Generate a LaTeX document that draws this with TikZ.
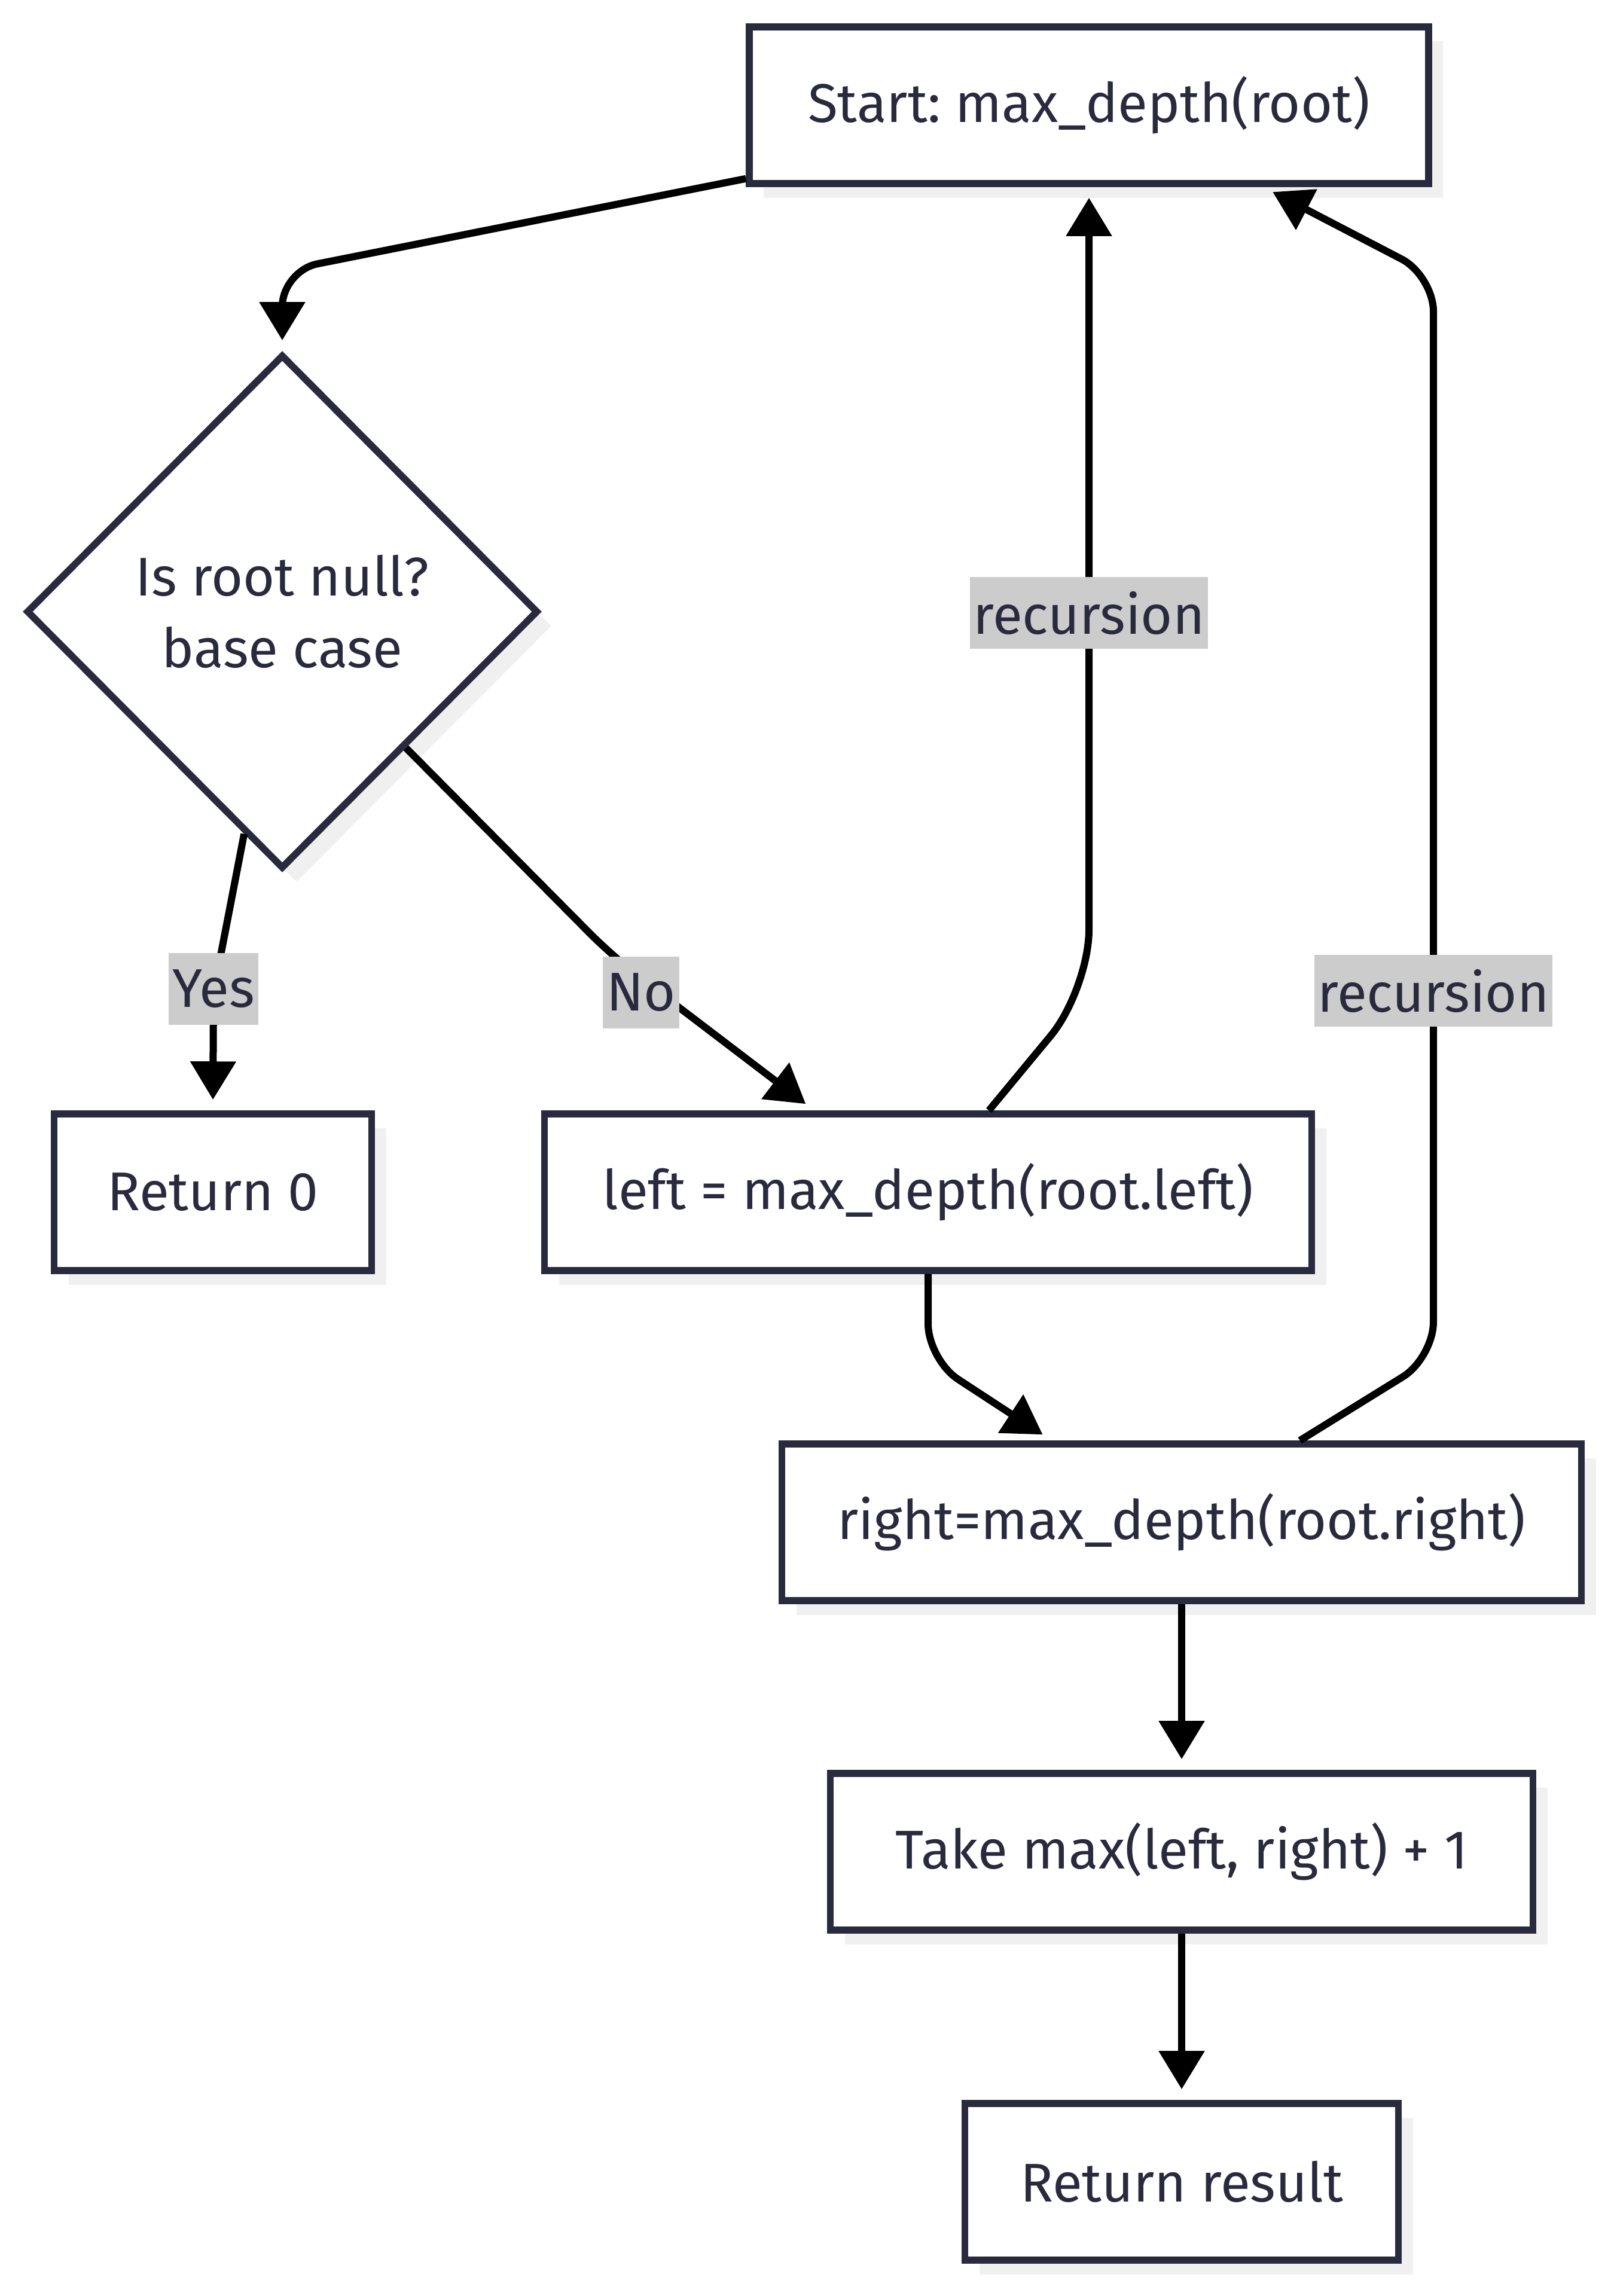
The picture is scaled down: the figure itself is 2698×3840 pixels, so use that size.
\documentclass[tikz,border=0pt]{standalone}
\usepackage{fontspec}
\setmainfont{Fira Sans}
\usetikzlibrary{shapes.geometric,arrows.meta,calc,shadows}
\definecolor{ink}{RGB}{42,42,62}
\definecolor{lblgray}{RGB}{204,204,204}
\definecolor{shadowgray}{RGB}{240,240,240}
\frenchspacing
\begin{document}
\begin{tikzpicture}[x=0.25pt,y=-0.25pt,
  nodefont/.style={font=\fontsize{22.8}{30}\selectfont, text=ink},
  shade/.style={drop shadow={shadow xshift=6pt, shadow yshift=-6pt, fill=shadowgray, opacity=1}},
  box/.style={rectangle, draw=ink, line width=2.9pt, fill=white, minimum height=65.5pt, inner sep=0pt, nodefont, shade},
  dia/.style={diamond, draw=ink, line width=2.9pt, fill=white, minimum width=214pt, minimum height=215pt, inner sep=0pt, align=center, nodefont, shade},
  edge/.style={draw=black, line width=3pt, -{Triangle[length=16pt,width=18.5pt]}, shorten >=4.5pt, rounded corners=15pt},
  lbl/.style={fill=lblgray, inner xsep=1.5pt, inner ysep=0pt, minimum height=30pt, nodefont}]
\useasboundingbox (0,0) rectangle (2698,3840);

\node[box, minimum width=284pt] (start) at (1821,176) {Start: max\_depth(root)};
\node[dia] (dec) at (472,1023) {Is root null?\\base case};
\node[box, minimum width=132.75pt] (ret0) at (356,1994) {Return 0};
\node[box, minimum width=320.75pt] (left) at (1552,1994) {left = max\_depth(root.left)};
\node[box, minimum width=334.25pt] (right) at (1976,2546) {right=max\_depth(root.right)};
\node[box, minimum width=293.75pt] (take) at (1976,3097) {Take max(left, right) + 1};
\node[box, minimum width=181.25pt] (result) at (1976,3649) {Return result};

\draw[edge] ($(start.south west)+(0,-14)$) -- (472,453) -- (dec.north);
\draw[edge] ($(dec.south)!0.147!(dec.west)$) -- (357,1660) -- (ret0.north);
\draw[edge] ($(dec.south)!0.477!(dec.east)$) -- (1028,1603) -- ($(left.north west)+(457,0)$);
\draw[edge, rounded corners=25pt] ($(left.north west)+(749,0)$) -- (1821,1655) -- (start.south);
\draw[edge] (left.south) -- (1552,2274) -- ($(right.north west)+(457,0)$);
\draw[edge] ($(right.north west)+(872,0)$) -- (2397,2271) -- (2397,461) -- ($(start.south west)+(865,0)$);
\draw[edge] (right.south) -- (take.north);
\draw[edge] (take.south) -- (result.north);

\node[lbl] (lyes) at (357,1654) {Yes};
\node[lbl] (lno) at (1072,1660) {No};
\node[lbl] (lrec1) at (1821,1025) {recursion};
\node[lbl] (lrec2) at (2397,1657) {recursion};
\end{tikzpicture}
\end{document}
